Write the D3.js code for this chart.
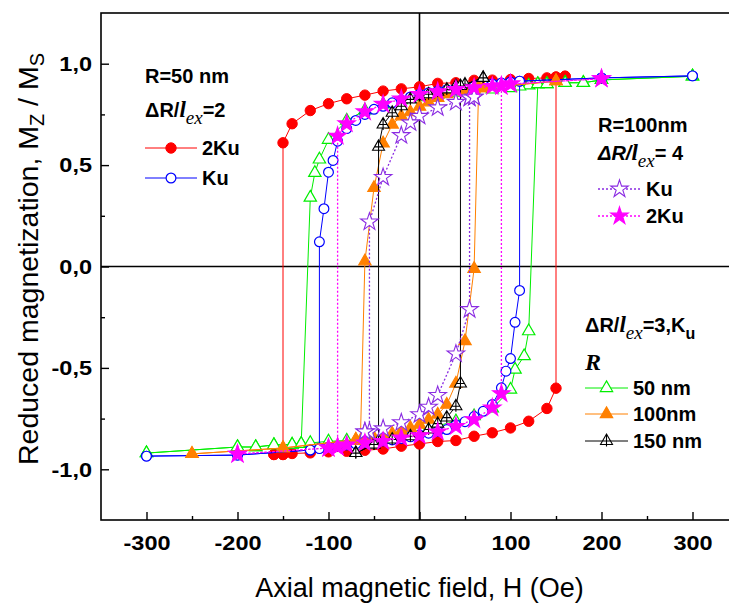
<!DOCTYPE html>
<html>
<head>
<meta charset="utf-8">
<script src="https://cdn.jsdelivr.net/npm/d3@7"></script>
<style>
  body { margin: 0; background: #fff; }
  text { font-family: "Liberation Sans", Arial, sans-serif; }
</style>
</head>
<body>
<div class="chart"></div>
<script>
// tick values
let xMajor = [-300, -200, -100, 0, 100, 200, 300];
let xMinor = [-250, -150, -50, 50, 150, 250];
let yMajor = [-1.0, -0.5, 0.0, 0.5, 1.0];
let yMinor = [-0.75, -0.25, 0.25, 0.75];

// R=50nm, dR/lex=2, 2Ku  (H, Mz/Ms)
let redDown = [[160,0.938],[150,0.934],[140,0.93],[120,0.927],[100,0.922],[80,0.919],[60,0.918],[40,0.906],[20,0.903],[0,0.886],[-20,0.876],[-40,0.865],[-60,0.845],[-80,0.827],[-100,0.803],[-120,0.769],[-140,0.704],[-150,0.61],[-150,-0.927],[-160,-0.927]];
let redUp = [[-160,-0.927],[-150,-0.927],[-140,-0.922],[-120,-0.919],[-100,-0.914],[-80,-0.911],[-60,-0.906],[-40,-0.9],[-20,-0.886],[0,-0.875],[20,-0.863],[40,-0.858],[60,-0.837],[80,-0.82],[100,-0.796],[120,-0.763],[140,-0.70],[150,-0.60],[150,0.934],[160,0.938]];

// R=50nm, dR/lex=2, Ku
let blueDown = [[300,0.94],[200,0.93],[110,0.914],[100,0.91],[90,0.905],[80,0.90],[70,0.895],[60,0.89],[50,0.885],[40,0.88],[30,0.872],[20,0.865],[10,0.857],[0,0.849],[-10,0.836],[-20,0.82],[-30,0.807],[-40,0.79],[-50,0.775],[-60,0.75],[-70,0.72],[-80,0.68],[-90,0.618],[-95,0.523],[-100,0.465],[-105,0.285],[-110,0.122],[-110,-0.895],[-120,-0.905],[-200,-0.93],[-300,-0.935]];
let blueUp = [[-300,-0.935],[-200,-0.93],[-120,-0.905],[-110,-0.898],[-100,-0.89],[-90,-0.885],[-80,-0.88],[-70,-0.875],[-60,-0.87],[-50,-0.865],[-40,-0.86],[-30,-0.855],[-20,-0.848],[-10,-0.84],[0,-0.83],[10,-0.822],[20,-0.813],[30,-0.804],[40,-0.78],[50,-0.765],[60,-0.74],[70,-0.714],[80,-0.681],[90,-0.598],[95,-0.516],[100,-0.454],[105,-0.275],[110,-0.118],[110,0.914],[200,0.93],[300,0.94]];

// dR/lex=3, Ku, R=50nm
let greenDown = [[300,0.938],[200,0.92],[180,0.906],[160,0.906],[140,0.90],[130,0.90],[120,0.893],[110,0.888],[100,0.88],[80,0.873],[60,0.866],[40,0.858],[20,0.848],[0,0.835],[-20,0.82],[-40,0.80],[-60,0.77],[-80,0.72],[-100,0.625],[-110,0.528],[-115,0.462],[-120,0.34],[-130,-0.875],[-140,-0.878],[-160,-0.88],[-180,-0.89],[-200,-0.89],[-300,-0.92]];
let greenUp = [[-300,-0.92],[-200,-0.89],[-180,-0.89],[-160,-0.88],[-140,-0.878],[-130,-0.875],[-120,-0.87],[-100,-0.862],[-80,-0.858],[-60,-0.845],[-40,-0.83],[-20,-0.815],[0,-0.80],[20,-0.785],[40,-0.763],[60,-0.738],[80,-0.70],[100,-0.607],[105,-0.508],[115,-0.442],[120,-0.319],[130,0.90],[140,0.90],[160,0.906],[180,0.906],[200,0.92],[300,0.938]];

// dR/lex=3, Ku, R=100nm
let orangeDown = [[150,0.914],[70,0.88],[60,0.875],[50,0.87],[40,0.865],[30,0.85],[20,0.832],[10,0.81],[0,0.788],[-10,0.761],[-20,0.741],[-30,0.70],[-40,0.607],[-50,0.388],[-60,0.026],[-65,-0.86],[-70,-0.855],[-150,-0.895],[-250,-0.924]];
let orangeUp = [[-250,-0.924],[-150,-0.895],[-70,-0.853],[-60,-0.85],[-50,-0.845],[-40,-0.835],[-30,-0.824],[-20,-0.812],[-10,-0.796],[0,-0.78],[10,-0.755],[20,-0.73],[30,-0.681],[40,-0.577],[50,-0.368],[60,-0.011],[65,0.885],[70,0.88],[150,0.914]];

// dR/lex=3, Ku, R=150nm
let blackDown = [[70,0.93],[50,0.898],[40,0.89],[30,0.873],[20,0.862],[10,0.849],[0,0.84],[-10,0.824],[-20,0.79],[-30,0.758],[-40,0.70],[-45,0.59],[-45,-0.86],[-50,-0.878],[-70,-0.92]];
let blackUp = [[-70,-0.92],[-50,-0.878],[-30,-0.853],[-10,-0.837],[10,-0.804],[20,-0.775],[30,-0.745],[40,-0.689],[45,-0.577],[45,0.89],[70,0.93]];

// R=100nm, dR/lex=4, Ku
let purpleDown = [[60,0.835],[55,0.832],[40,0.81],[20,0.783],[0,0.741],[-10,0.709],[-20,0.646],[-40,0.44],[-55,0.22],[-55,-0.815],[-60,-0.815]];
let purpleUp = [[-60,-0.815],[-40,-0.80],[-20,-0.77],[0,-0.73],[10,-0.693],[20,-0.635],[40,-0.431],[55,-0.212],[55,0.832],[60,0.835]];

// R=100nm, dR/lex=4, 2Ku
let magentaDown = [[200,0.926],[100,0.90],[90,0.89],[80,0.888],[60,0.882],[40,0.873],[20,0.862],[0,0.849],[-20,0.826],[-40,0.80],[-60,0.763],[-80,0.704],[-90,0.643],[-90,-0.89],[-100,-0.895],[-200,-0.925]];
let magentaUp = [[-200,-0.925],[-100,-0.895],[-90,-0.89],[-80,-0.88],[-60,-0.87],[-40,-0.862],[-20,-0.845],[0,-0.834],[20,-0.815],[40,-0.788],[60,-0.755],[80,-0.697],[90,-0.627],[90,0.89],[100,0.90],[200,0.926]];

let width = 729, height = 603;
let svg = d3.select(".chart").append("svg")
    .attr("width", width)
    .attr("height", height);

let x = d3.scaleLinear().domain([-350, 350]).range([101, 738]);
let y = d3.scaleLinear().domain([-1.25, 1.25]).range([520, 13]);

let fmt = d => d3.format(".0f")(d).replace("\u2212", "-");
let fmtY = d => d3.format(".1f")(d).replace("\u2212", "-").replace(".", ",");

// frame and zero lines
svg.append("rect")
    .attr("x", x(-350)).attr("y", y(1.25))
    .attr("width", x(350) - x(-350)).attr("height", y(-1.25) - y(1.25))
    .attr("fill", "none").attr("stroke", "#000").attr("stroke-width", 1.6);
svg.append("line")
    .attr("x1", x(0)).attr("x2", x(0)).attr("y1", y(1.25)).attr("y2", y(-1.25))
    .attr("stroke", "#000").attr("stroke-width", 1.6);
svg.append("line")
    .attr("x1", x(-350)).attr("x2", x(350)).attr("y1", y(0)).attr("y2", y(0))
    .attr("stroke", "#000").attr("stroke-width", 1.6);

// axes (ticks point inward)
svg.append("g")
    .attr("class", "x-major")
    .attr("transform", `translate(0,${y(-1.25)})`)
    .call(d3.axisBottom(x).tickValues(xMajor).tickSize(-8).tickPadding(15).tickFormat(fmt));
svg.append("g")
    .attr("transform", `translate(0,${y(-1.25)})`)
    .call(d3.axisBottom(x).tickValues(xMinor).tickSize(-4).tickFormat(""));
svg.append("g")
    .attr("class", "y-major")
    .attr("transform", `translate(${x(-350)},0)`)
    .call(d3.axisLeft(y).tickValues(yMajor).tickSize(-8).tickPadding(8).tickFormat(fmtY));
svg.append("g")
    .attr("transform", `translate(${x(-350)},0)`)
    .call(d3.axisLeft(y).tickValues(yMinor).tickSize(-4).tickFormat(""));

svg.selectAll(".domain").remove();
svg.selectAll(".tick line").attr("stroke", "#000").attr("stroke-width", 1.4);
svg.selectAll(".tick text")
    .attr("fill", "#000")
    .style("font-family", "'Liberation Sans', Arial, sans-serif")
    .style("font-size", "21px")
    .style("font-weight", "bold")
    .attr("transform", "scale(1.12,1)");

// axis titles
svg.append("text")
    .attr("x", x(0)).attr("y", 597)
    .attr("text-anchor", "middle")
    .style("font-size", "27px")
    .text("Axial magnetic field, H (Oe)");

let yTitle = svg.append("text")
    .attr("transform", `translate(38,259) rotate(-90)`)
    .attr("text-anchor", "middle")
    .style("font-size", "28.5px");
yTitle.append("tspan").text("Reduced magnetization, M");
yTitle.append("tspan").attr("dy", 6).style("font-size", "20px").text("Z");
yTitle.append("tspan").attr("dy", -6).text(" / M");
yTitle.append("tspan").attr("dy", 6).style("font-size", "20px").text("S");

// markers
function drawMarker(g, kind, color, cx, cy) {
    if (kind === "circleFilled") {
        g.append("path").attr("d", d3.symbol(d3.symbolCircle, 85)())
            .attr("transform", `translate(${cx},${cy})`)
            .attr("fill", color).attr("stroke", color).attr("stroke-width", 1);
    } else if (kind === "circleOpen") {
        g.append("path").attr("d", d3.symbol(d3.symbolCircle, 75)())
            .attr("transform", `translate(${cx},${cy})`)
            .attr("fill", "#fff").attr("stroke", color).attr("stroke-width", 1.2);
    } else if (kind === "triOpen" || kind === "triFilled") {
        g.append("path").attr("d", d3.symbol(d3.symbolTriangle, 66)())
            .attr("transform", `translate(${cx},${cy})`)
            .attr("fill", kind === "triFilled" ? color : "#fff")
            .attr("stroke", color).attr("stroke-width", 1.2);
    } else if (kind === "triCross") {
        let s = 12, h = s * Math.sqrt(3) / 2;
        let p = `M0,${-h * 2 / 3}L${s / 2},${h / 3}L${-s / 2},${h / 3}Z` +
            `M0,${-h * 2 / 3}L0,${h / 3 + 2}M${-s / 3},0L${s / 3},0`;
        g.append("path").attr("d", p)
            .attr("transform", `translate(${cx},${cy})`)
            .attr("fill", "#fff").attr("stroke", color).attr("stroke-width", 1.1);
    } else if (kind === "starOpen" || kind === "starFilled") {
        g.append("path").attr("d", d3.symbol(d3.symbolStar, 95)())
            .attr("transform", `translate(${cx},${cy})`)
            .attr("fill", kind === "starFilled" ? color : "#fff")
            .attr("stroke", color).attr("stroke-width", 1.1);
    }
}

let series = [
    { pts: redDown.concat(redUp), color: "#ff0000", kind: "circleFilled", dash: null },
    { pts: greenDown.concat(greenUp), color: "#00ee00", kind: "triOpen", dash: null },
    { pts: blueDown.concat(blueUp), color: "#0000ff", kind: "circleOpen", dash: null },
    { pts: orangeDown.concat(orangeUp), color: "#ff8000", kind: "triFilled", dash: null },
    { pts: blackDown.concat(blackUp), color: "#000000", kind: "triCross", dash: null },
    { pts: purpleDown.concat(purpleUp), color: "#8a2be2", kind: "starOpen", dash: "2,2" },
    { pts: magentaDown.concat(magentaUp), color: "#ff00ff", kind: "starFilled", dash: "2,2" }
];

let line = d3.line().x(d => x(d[0])).y(d => y(d[1]));

series.forEach(s => {
    let g = svg.append("g");
    g.append("path")
        .attr("d", line(s.pts))
        .attr("fill", "none")
        .attr("stroke", s.color)
        .attr("stroke-width", s.dash ? 1.3 : 1)
        .attr("stroke-dasharray", s.dash);
    s.pts.forEach(p => drawMarker(g, s.kind, s.color, x(p[0]), y(p[1])));
});

// legends
function legendEntry(x0, x1, yy, color, dash, kind, label) {
    let g = svg.append("g");
    g.append("line")
        .attr("x1", x0).attr("x2", x1).attr("y1", yy).attr("y2", yy)
        .attr("stroke", color).attr("stroke-width", dash ? 1.3 : 1).attr("stroke-dasharray", dash);
    drawMarker(g, kind, color, (x0 + x1) / 2, yy);
    g.append("text")
        .attr("x", x1 + 5).attr("y", yy + 7)
        .style("font-size", "20px").style("font-weight", "bold")
        .text(label);
}

function deltaLabel(x0, y0, italic, tail) {
    let t = svg.append("text").attr("x", x0).attr("y", y0)
        .style("font-size", "20px").style("font-weight", "bold");
    t.append("tspan").style("font-style", italic ? "italic" : "normal").text("\u0394R/");
    t.append("tspan").style("font-family", "'Liberation Serif', 'Times New Roman', serif")
        .style("font-style", "italic").style("font-size", "23px").text("l");
    t.append("tspan").attr("dy", 7)
        .style("font-family", "'Liberation Serif', 'Times New Roman', serif")
        .style("font-style", "italic").style("font-weight", "normal").style("font-size", "19px").text("ex");
    t.append("tspan").attr("dy", -7).text(tail);
    return t;
}

svg.append("text").attr("x", 145).attr("y", 83)
    .style("font-size", "20px").style("font-weight", "bold").text("R=50 nm");
deltaLabel(145, 117, false, "=2");
legendEntry(145, 197, 148, "#ff0000", null, "circleFilled", "2Ku");
legendEntry(145, 197, 178, "#0000ff", null, "circleOpen", "Ku");

svg.append("text").attr("x", 598).attr("y", 132)
    .style("font-size", "20px").style("font-weight", "bold").text("R=100nm");
deltaLabel(598, 160, true, "= 4");
legendEntry(598, 641, 189, "#8a2be2", "2,2", "starOpen", "Ku");
legendEntry(598, 641, 216, "#ff00ff", "2,2", "starFilled", "2Ku");

let t3 = deltaLabel(585, 332, false, "=3,K");
t3.append("tspan").attr("dy", 7).style("font-size", "16px").text("u");
svg.append("text").attr("x", 585).attr("y", 370)
    .style("font-family", "'Liberation Serif', 'Times New Roman', serif")
    .style("font-size", "24px").style("font-weight", "bold").style("font-style", "italic")
    .text("R");
legendEntry(585, 628, 388, "#00ee00", null, "triOpen", "50 nm");
legendEntry(585, 628, 414, "#ff8000", null, "triFilled", "100nm");
legendEntry(585, 628, 441, "#000000", null, "triCross", "150 nm");
</script>
</body>
</html>
